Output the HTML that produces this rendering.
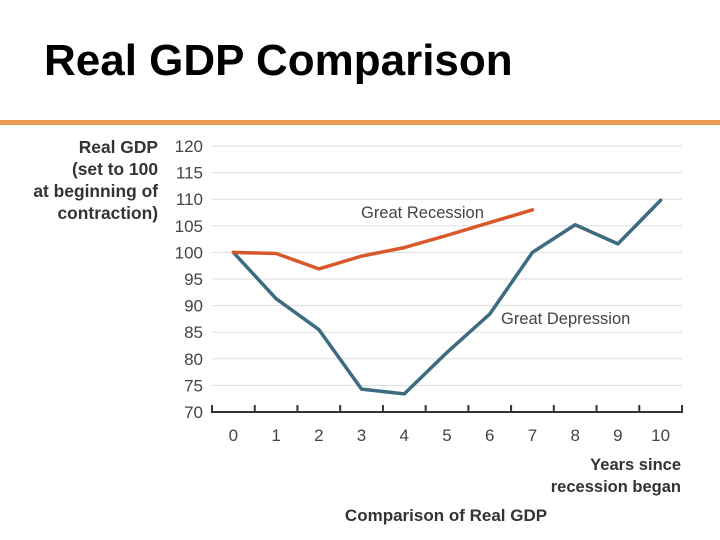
<!DOCTYPE html>
<html><head><meta charset="utf-8"><style>
body{margin:0;width:720px;height:540px;background:#fff;overflow:hidden;font-family:"Liberation Sans",sans-serif}
</style></head><body>
<div style="position:absolute;left:44px;top:36px;font-size:44px;font-weight:bold;color:#000">Real GDP Comparison</div>
<div style="position:absolute;left:0;top:120px;width:720px;height:5px;background:#eb9a50"></div>
<svg id="chart" width="720" height="540" style="position:absolute;left:0;top:0" font-family="Liberation Sans, sans-serif">
<g id="axis"></g><g id="lines"></g>
<text font-size="17.4" font-weight="bold" fill="#333" text-anchor="end"><tspan x="158" y="153">Real GDP</tspan><tspan x="158" y="175">(set to 100</tspan><tspan x="158" y="197">at beginning of</tspan><tspan x="158" y="219">contraction)</tspan></text>
<text font-size="16.5" font-weight="bold" fill="#333" text-anchor="end"><tspan x="681" y="470">Years since</tspan><tspan x="681" y="492">recession began</tspan></text>
<text x="446" y="521" font-size="17" font-weight="bold" fill="#333" text-anchor="middle">Comparison of Real GDP</text>
<text x="361" y="218" font-size="16.5" fill="#444">Great Recession</text>
<text x="501" y="324" font-size="16.5" fill="#444">Great Depression</text>
</svg>
<script>
const years=[0,1,2,3,4,5,6,7,8,9,10];
const recession=[100,99.8,96.9,99.3,100.9,103.2,105.6,108];
const depression=[100,91.3,85.5,74.3,73.4,81.2,88.4,100,105.2,101.6,109.8];
const yTicks=[70,75,80,85,90,95,100,105,110,115,120];
const NS='http://www.w3.org/2000/svg';
const L=212,R=682,bw=(R-L)/11;
const x=i=>L+bw*(i+0.5);
const y=v=>412-(v-70)*(412-146)/50;
const ax=document.getElementById('axis'),ln=document.getElementById('lines');
function mk(t,a,p){const e=document.createElementNS(NS,t);for(const k in a)e.setAttribute(k,a[k]);p.appendChild(e);return e;}
yTicks.forEach(t=>{
 if(t>70){const g=mk('line',{x1:L,x2:R,y1:y(t),y2:y(t),stroke:'#ddd','stroke-width':1},ax);
 
 }
 const tx=mk('text',{x:203,y:y(t)+6,'font-size':17,fill:'#444','text-anchor':'end'},ax);tx.textContent=t;
 
 
});
const base=mk('line',{x1:L,x2:R,y1:412,y2:412,stroke:'#333','stroke-width':2},ax);


for(let i=0;i<=11;i++){const t=mk('line',{x1:L+bw*i,x2:L+bw*i,y1:405,y2:413,stroke:'#333','stroke-width':2},ax);
 
 }
years.forEach((yr,i)=>{const t=mk('text',{x:x(i),y:441,'font-size':17,fill:'#444','text-anchor':'middle'},ax);t.textContent=yr;
 
 });
function line(d,c,n){const p=mk('polyline',{points:d.map((v,i)=>x(i)+','+y(v)).join(' '),fill:'none',stroke:c,'stroke-width':3.5,'stroke-linejoin':'round','stroke-linecap':'round'},ln);
 
 }
line(depression,'#3d6b80','great-depression-line');
line(recession,'#d9582b','great-recession-line');
</script>
</body></html>
